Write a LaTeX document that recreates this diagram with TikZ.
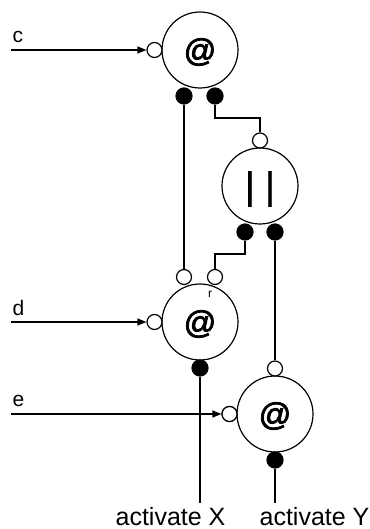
\documentclass[tikz,border=0pt]{standalone}
\usepackage{fontspec}
\setmainfont{Liberation Sans}
\newfontfamily\symbfont[FakeBold=2.5]{Liberation Sans}
\newfontfamily\barfont[FakeBold=1]{Liberation Sans}
\usetikzlibrary{arrows.meta}
\begin{document}
\begin{tikzpicture}[x=1pt,y=-1pt,line width=1.2pt,
  proc/.style={circle,draw,minimum size=76pt,inner sep=0pt},
  wport/.style={circle,draw,fill=white,minimum size=15pt,inner sep=0pt},
  bport/.style={circle,draw,fill=black,minimum size=16pt,inner sep=0pt},
  lbl/.style={font=\fontsize{21}{24}\selectfont,anchor=base west,inner sep=0pt},
  outlbl/.style={font=\fontsize{25}{29}\selectfont,anchor=base west,inner sep=0pt},
  sym/.style={font=\symbfont\fontsize{32}{36}\selectfont},
  arr/.style={-{Triangle[length=9pt,width=7pt]}}]
\useasboundingbox (0,0) rectangle (369,529);
% processes
\node[proc] (A1) at (200,50) {};
\node[sym] (s1) at (200,52) {@};
\node[proc] (P) at (260,186) {};
\node[font=\barfont\fontsize{38}{42}\selectfont] (sp) at (260,189) {| |};
\node[proc] (A2) at (200,322) {};
\node[sym] (s2) at (200,324) {@};
\node[font=\fontsize{12}{14}\selectfont] (r) at (210,294) {r};
\node[proc] (A3) at (275,414) {};
\node[sym] (s3) at (275,416) {@};
% ports
\node[wport] (A1in) at (154.5,50) {};
\node[bport] (A1o1) at (184,96) {};
\node[bport] (A1o2) at (215,96) {};
\node[wport] (Pin) at (260,140.5) {};
\node[bport] (Po1) at (245,232) {};
\node[bport] (Po2) at (275,232) {};
\node[wport] (A2i1) at (184,277) {};
\node[wport] (A2i2) at (215,277) {};
\node[wport] (A2in) at (154.5,322) {};
\node[bport] (A2o) at (200,368) {};
\node[wport] (A3i) at (275,368.5) {};
\node[wport] (A3in) at (229.5,414) {};
\node[bport] (A3o) at (275,460) {};
% inputs
\coordinate (cin) at (11,50);
\coordinate (din) at (11,322);
\coordinate (ein) at (11,414);
\node[lbl] (lc) at (12,43) {c};
\node[lbl] (ld) at (12,315) {d};
\node[lbl] (le) at (12,406) {e};
\draw[arr] (cin) -- (A1in.west);
\draw[arr] (din) -- (A2in.west);
% wires
\draw (A1o1.south) -- (A2i1.north);
\draw (A1o2.south) |- (260,118) -- (Pin.north);
\draw (Po1.south) |- (215,254) -- (A2i2.north);
\draw (Po2.south) -- (A3i.north);
\coordinate (xend) at (200,503);
\coordinate (yend) at (275,503);
\draw (A2o.south) -- (xend);
\draw (A3o.south) -- (yend);
\draw[arr] (ein) -- (A3in.west);
\node[wport] (A3inb) at (A3in) {};
% outputs
\node[outlbl] (ox) at (115,525) {activate X};
\node[outlbl] (oy) at (259,525) {activate Y};
\end{tikzpicture}
\end{document}
